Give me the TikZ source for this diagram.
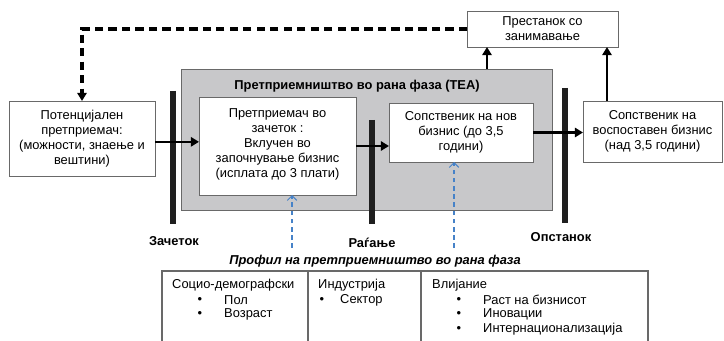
\documentclass[tikz,border=0pt]{standalone}
\usepackage{fontspec}
\setmainfont{Liberation Sans}
\usetikzlibrary{arrows.meta}
\definecolor{teagray}{RGB}{200,200,202}
\definecolor{edgegray}{RGB}{105,105,105}
\definecolor{profblue}{RGB}{70,130,200}
\begin{document}
\begin{tikzpicture}[x=0.03cm,y=-0.03cm,
  font=\fontsize{11}{12.8}\selectfont,
  box/.style={draw=edgegray, line width=0.8pt, fill=white, align=center, inner sep=0pt, outer sep=0pt},
  bar/.style={line width=4.6pt, draw=black!88},
  arr/.style={line width=2.2pt, -{Triangle[length=7pt,width=8pt]}},
  backarr/.style={line width=2.6pt, dash pattern=on 7pt off 4.5pt, -{Triangle[length=7pt,width=8pt]}},
  profarr/.style={profblue, line width=0.9pt, dash pattern=on 4pt off 3pt, -{Straight Barb[length=4pt,width=8pt]}},
  stage/.style={font=\fontsize{11}{12.8}\selectfont\bfseries},
  txt/.style={inner sep=0pt, anchor=west},
  dot/.style={inner sep=0pt}]
\useasboundingbox (0,0) rectangle (724,341);
\node[box, fill=teagray, minimum width=11.13cm, minimum height=4.23cm] (tea) at (366.5,139.5){};
\node[stage] (teatitle) at (357,86){Претприемништво во рана фаза (TEA)};
\draw[bar] (173,91) -- (173,224);
\draw[bar] (372,120) -- (372,224);
\draw[bar] (565,88) -- (565,223);
\node[box, minimum width=4.38cm, minimum height=2.25cm] (pot) at (82,138.5){Потенцијален\\претприемач:\\(можности, знаење и\\вештини)};
\node[box, minimum width=4.71cm, minimum height=2.94cm] (nascent) at (277.5,146){Претприемач во\\зачеток :\\Вклучен во\\започнување бизнис\\(исплата до 3 плати)\\[-0.25cm]\mbox{}};
\node[box, minimum width=4.32cm, minimum height=1.77cm] (newbiz) at (461,132.5){Сопственик на нов\\бизнис (до 3,5\\години)};
\node[box, minimum width=4.17cm, minimum height=1.83cm] (estab) at (652.5,131.5){Сопственик на\\воспоставен бизнис\\(над 3,5 години)};
\node[box, minimum width=4.53cm, minimum height=1.08cm] (discont) at (542.5,29){Престанок со\\занимавање};
\node[stage] (conc) at (174,241){Зачеток};
\node[stage] (birth) at (372,243){Раѓање};
\node[stage] (persist) at (561,237){Опстанок};
\coordinate (up1) at (487,47);
\coordinate (up2) at (607,47);
\coordinate (p1) at (292,248);
\coordinate (p2) at (454,248);
\draw[arr] ([yshift=-0.1cm]pot.east) -- ([yshift=-0.1cm]pot.east -| nascent.west);
\draw[arr] (nascent) -- (nascent -| newbiz.west);
\draw[arr] (newbiz) -- (newbiz -| estab.west);
\draw[arr] (tea.north -| up1) -- (up1);
\draw[arr] (estab.north -| up2) -- (up2);
\draw[backarr] (discont.west) -| (pot.north);
\draw[profarr] (p1) -- (p1 |- nascent.south);
\draw[profarr] (p2) -- (p2 |- newbiz.south);
\node[font=\fontsize{11}{12.8}\selectfont\bfseries\itshape] (prof) at (375,261){Профил на претприемништво во рана фаза};
\draw[edgegray, line width=1pt] (162,341) -- (162,271) -- (648,271) -- (648,341);
\draw[edgegray, line width=1pt] (308,271) -- (308,341);
\draw[edgegray, line width=1pt] (421,271) -- (421,341);
\node[txt] (sd) at (172,285){Социо-демографски};
\node[dot] at (200,300){•};
\node[txt] (sex) at (224,300){Пол};
\node[dot] at (200,314.5){•};
\node[txt] (age) at (224,314.5){Возраст};
\node[txt] (ind) at (318,285){Индустрија};
\node[dot] at (322,300){•};
\node[txt] (sect) at (340,300){Сектор};
\node[txt] (imp) at (432,285){Влијание};
\node[dot] at (459,300){•};
\node[txt] (grow) at (483,300){Раст на бизнисот};
\node[dot] at (459,314.5){•};
\node[txt] (inno) at (483,314.5){Иновации};
\node[dot] at (459,329){•};
\node[txt] (intl) at (483,329){Интернационализација};
\end{tikzpicture}
\end{document}
